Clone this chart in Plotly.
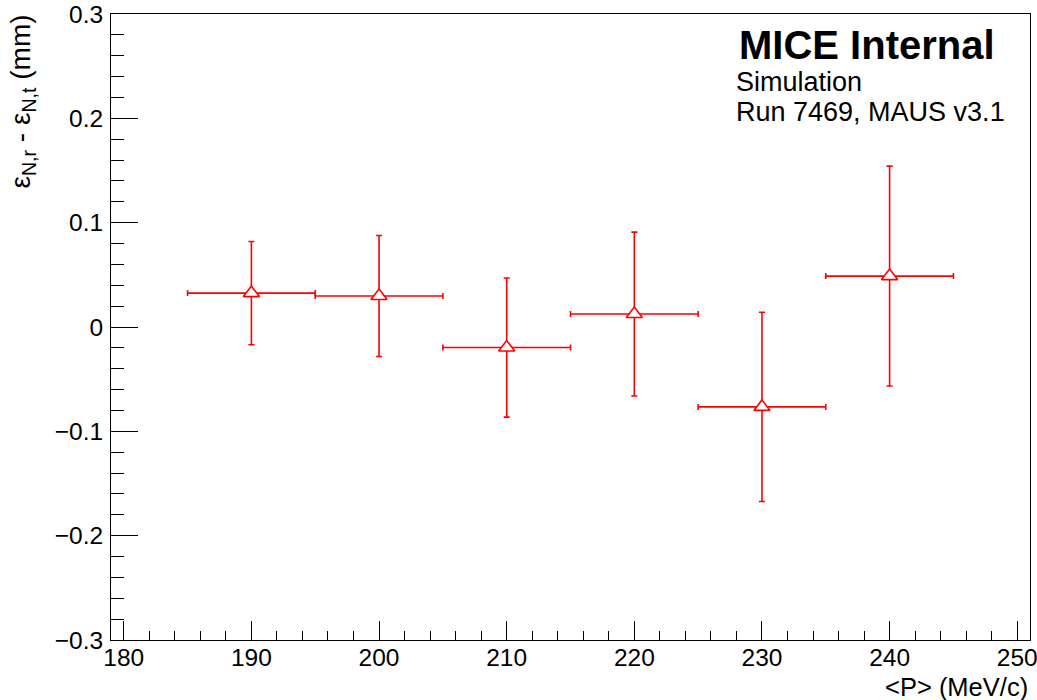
import plotly.graph_objects as go

# Mean momentum bins (MeV/c) and their half-widths
momentum = [190, 200, 210, 220, 230, 240]
momentum_halfwidth = [5, 5, 5, 5, 5, 5]

# Emittance difference reconstructed - true (mm) and its uncertainty
emit_diff = [0.0325, 0.0297, -0.0197, 0.0124, -0.0766, 0.0488]
emit_diff_err = [0.0495, 0.058, 0.0667, 0.0785, 0.0907, 0.1054]

# Axis tick labels
x_tickvals = [180, 190, 200, 210, 220, 230, 240, 250]
x_ticktext = ["180", "190", "200", "210", "220", "230", "240", "250"]
y_tickvals = [-0.3, -0.2, -0.1, 0.0, 0.1, 0.2, 0.3]
y_ticktext = ["\u22120.3", "\u22120.2", "\u22120.1", "0", "0.1", "0.2", "0.3"]

FONT = "Liberation Sans, Arial, Helvetica, sans-serif"
RED = "#ff0000"

fig = go.Figure()
fig.add_trace(go.Scatter(
    x=momentum,
    y=emit_diff,
    mode="markers",
    marker=dict(symbol="triangle-up", size=14, color="white",
                line=dict(color=RED, width=1.6)),
    error_x=dict(type="data", array=momentum_halfwidth, color=RED,
                 thickness=1.6, width=3),
    error_y=dict(type="data", array=emit_diff_err, color=RED,
                 thickness=1.6, width=3),
    showlegend=False,
    hoverinfo="skip",
))

fig.update_layout(
    width=1037,
    height=700,
    margin=dict(l=111, r=7, t=14, b=60),
    paper_bgcolor="white",
    plot_bgcolor="white",
    font=dict(family=FONT, size=24, color="black"),
    xaxis=dict(
        range=[179, 251],
        tickvals=x_tickvals,
        ticktext=x_ticktext,
        ticks="inside",
        ticklen=19,
        tickwidth=1,
        tickcolor="black",
        minor=dict(dtick=2, tick0=180, ticks="inside", ticklen=9,
                   tickwidth=1, tickcolor="black"),
        showline=True,
        linecolor="black",
        linewidth=1,
        mirror=True,
        showgrid=False,
        zeroline=False,
        automargin=False,
        ticklabeloverflow="allow",
        ticklabelstandoff=-4,
        tickfont=dict(size=24.5),
    ),
    yaxis=dict(
        range=[-0.3, 0.3],
        tickvals=y_tickvals,
        ticktext=y_ticktext,
        ticks="inside",
        ticklen=27,
        tickwidth=1,
        tickcolor="black",
        minor=dict(dtick=0.02, tick0=0, ticks="inside", ticklen=13,
                   tickwidth=1, tickcolor="black"),
        showline=True,
        linecolor="black",
        linewidth=1,
        mirror=True,
        showgrid=False,
        zeroline=False,
        automargin=False,
        ticklabeloverflow="allow",
        ticklabelstandoff=2,
        tickfont=dict(size=24.5),
    ),
    annotations=[
        # axis titles, right/top aligned
        dict(text="&lt;P&gt; (MeV/c)", xref="paper", yref="paper",
             x=1.0, y=-0.0495, xanchor="right", yanchor="top",
             showarrow=False, font=dict(size=25.5)),
        dict(text="\u03b5<sub>N,r</sub> - \u03b5<sub>N,t</sub> (mm)",
             xref="paper", yref="paper", x=-0.096, y=1.002,
             xanchor="center", yanchor="top", textangle=-90,
             showarrow=False, font=dict(size=28)),
        # labels in the upper right corner
        dict(text="<b>MICE Internal</b>", xref="paper", yref="paper",
             x=0.681, y=1 - (45 - 14) / 626, xanchor="left", yanchor="middle",
             showarrow=False, font=dict(size=40)),
        dict(text="Simulation", xref="paper", yref="paper",
             x=0.678, y=1 - (82 - 14) / 626, xanchor="left", yanchor="middle",
             showarrow=False, font=dict(size=27)),
        dict(text="Run 7469, MAUS v3.1", xref="paper", yref="paper",
             x=0.678, y=1 - (112 - 14) / 626, xanchor="left", yanchor="middle",
             showarrow=False, font=dict(size=27)),
    ],
)

fig.write_html("out.html", config={"displayModeBar": False})
